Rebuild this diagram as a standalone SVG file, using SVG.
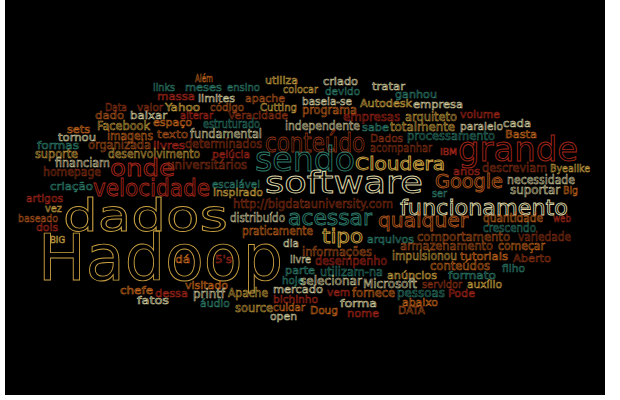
<svg xmlns="http://www.w3.org/2000/svg" width="620" height="400" viewBox="0 0 620 400">
<style>
text{font-family:"DejaVu Sans","Liberation Sans",sans-serif;fill:none;stroke-width:0.55;font-size:11px}
.g{stroke:#c9a040}.c{stroke:#d6cfa0}.t{stroke:#2e7d6b}.r{stroke:#a3261a}.b{stroke:#8c3315}.o{stroke:#c8691e}.ob{stroke:#a8521c}
.m{font-size:12.5px}.s{font-size:8px}
.big{stroke-width:0.9}
</style>
<rect x="0" y="0" width="620" height="400" fill="#ffffff"/>
<rect x="5" y="0" width="600" height="395" fill="#000000"/>
<g id="cloud">
<text x="195" y="82" textLength="18" lengthAdjust="spacingAndGlyphs" class="o">Além</text>
<text x="265" y="84" textLength="33" lengthAdjust="spacingAndGlyphs" class="g">utiliza</text>
<text x="323" y="85" textLength="35" lengthAdjust="spacingAndGlyphs" class="c">criado</text>
<text x="372" y="90" textLength="33" lengthAdjust="spacingAndGlyphs" class="c">tratar</text>
<text x="283" y="93" textLength="35" lengthAdjust="spacingAndGlyphs" class="g">colocar</text>
<text x="325" y="95" textLength="35" lengthAdjust="spacingAndGlyphs" class="t">devido</text>
<text x="395" y="98" textLength="42" lengthAdjust="spacingAndGlyphs" class="t">ganhou</text>
<text x="153" y="91" textLength="22" lengthAdjust="spacingAndGlyphs" class="t">links</text>
<text x="185" y="91" textLength="37" lengthAdjust="spacingAndGlyphs" class="t">meses</text>
<text x="227" y="91" textLength="33" lengthAdjust="spacingAndGlyphs" class="t">ensino</text>
<text x="157" y="100" textLength="38" lengthAdjust="spacingAndGlyphs" class="r">massa</text>
<text x="198" y="102" textLength="37" lengthAdjust="spacingAndGlyphs" class="c">limites</text>
<text x="245" y="102" textLength="40" lengthAdjust="spacingAndGlyphs" class="ob">apache</text>
<text x="302" y="105" textLength="50" lengthAdjust="spacingAndGlyphs" class="c">baseia-se</text>
<text x="360" y="107" textLength="52" lengthAdjust="spacingAndGlyphs" class="g">Autodesk</text>
<text x="413" y="108" textLength="50" lengthAdjust="spacingAndGlyphs" class="c">empresa</text>
<text x="302" y="114" textLength="55" lengthAdjust="spacingAndGlyphs" class="o m">programa</text>
<text x="105" y="111" textLength="22" lengthAdjust="spacingAndGlyphs" class="b">Data</text>
<text x="137" y="111" textLength="26" lengthAdjust="spacingAndGlyphs" class="b">valor</text>
<text x="165" y="111" textLength="35" lengthAdjust="spacingAndGlyphs" class="g">Yahoo</text>
<text x="210" y="111" textLength="34" lengthAdjust="spacingAndGlyphs" class="ob">código</text>
<text x="260" y="111" textLength="37" lengthAdjust="spacingAndGlyphs" class="g">Cutting</text>
<text x="95" y="119" textLength="29" lengthAdjust="spacingAndGlyphs" class="ob">dado</text>
<text x="130" y="119" textLength="37" lengthAdjust="spacingAndGlyphs" class="c">baixar</text>
<text x="180" y="119" textLength="33" lengthAdjust="spacingAndGlyphs" class="r">alterar</text>
<text x="228" y="119" textLength="60" lengthAdjust="spacingAndGlyphs" class="b">Veracidade</text>
<text x="153" y="126" textLength="39" lengthAdjust="spacingAndGlyphs" class="o">espaço</text>
<text x="203" y="128" textLength="57" lengthAdjust="spacingAndGlyphs" class="t m">estruturado</text>
<text x="285" y="130" textLength="75" lengthAdjust="spacingAndGlyphs" class="c m">independente</text>
<text x="343" y="121" textLength="57" lengthAdjust="spacingAndGlyphs" class="r m">empresas</text>
<text x="405" y="121" textLength="52" lengthAdjust="spacingAndGlyphs" class="g m">arquiteto</text>
<text x="460" y="118" textLength="40" lengthAdjust="spacingAndGlyphs" class="r">volume</text>
<text x="362" y="131" textLength="27" lengthAdjust="spacingAndGlyphs" class="t">sabe</text>
<text x="390" y="131" textLength="65" lengthAdjust="spacingAndGlyphs" class="g m">totalmente</text>
<text x="460" y="130" textLength="43" lengthAdjust="spacingAndGlyphs" class="c">paralelo</text>
<text x="503" y="127" textLength="28" lengthAdjust="spacingAndGlyphs" class="c">cada</text>
<text x="505" y="138" textLength="32" lengthAdjust="spacingAndGlyphs" class="o">Basta</text>
<text x="407" y="140" textLength="88" lengthAdjust="spacingAndGlyphs" class="t m">processamento</text>
<text x="370" y="142" textLength="33" lengthAdjust="spacingAndGlyphs" class="b">Dados</text>
<text x="370" y="152" textLength="62" lengthAdjust="spacingAndGlyphs" class="b m">acompanhar</text>
<text x="440" y="155" textLength="17" lengthAdjust="spacingAndGlyphs" class="r s">IBM</text>
<text x="458" y="161" textLength="120" lengthAdjust="spacingAndGlyphs" class="r big" style="font-size:33px">grande</text>
<text x="67" y="133" textLength="23" lengthAdjust="spacingAndGlyphs" class="o">sets</text>
<text x="97" y="130" textLength="53" lengthAdjust="spacingAndGlyphs" class="g m">Facebook</text>
<text x="157" y="138" textLength="31" lengthAdjust="spacingAndGlyphs" class="ob">texto</text>
<text x="190" y="138" textLength="72" lengthAdjust="spacingAndGlyphs" class="c m">fundamental</text>
<text x="58" y="141" textLength="38" lengthAdjust="spacingAndGlyphs" class="c">tornou</text>
<text x="107" y="140" textLength="46" lengthAdjust="spacingAndGlyphs" class="o m">imagens</text>
<text x="37" y="149" textLength="42" lengthAdjust="spacingAndGlyphs" class="t">formas</text>
<text x="88" y="149" textLength="63" lengthAdjust="spacingAndGlyphs" class="ob m">organizada</text>
<text x="153" y="149" textLength="32" lengthAdjust="spacingAndGlyphs" class="r">livres</text>
<text x="185" y="148" textLength="77" lengthAdjust="spacingAndGlyphs" class="b m">determinados</text>
<text x="265" y="152" textLength="100" lengthAdjust="spacingAndGlyphs" class="b big" style="font-size:27px">conteúdo</text>
<text x="35" y="158" textLength="43" lengthAdjust="spacingAndGlyphs" class="g m">suporte</text>
<text x="108" y="158" textLength="92" lengthAdjust="spacingAndGlyphs" class="g m">desenvolvimento</text>
<text x="212" y="158" textLength="38" lengthAdjust="spacingAndGlyphs" class="r">pelúcia</text>
<text x="255" y="171" textLength="100" lengthAdjust="spacingAndGlyphs" class="t big" style="font-size:34px">sendo</text>
<text x="55" y="167" textLength="55" lengthAdjust="spacingAndGlyphs" class="c m">financiam</text>
<text x="110" y="176" textLength="65" lengthAdjust="spacingAndGlyphs" class="r big" style="font-size:23px">onde</text>
<text x="167" y="169" textLength="80" lengthAdjust="spacingAndGlyphs" class="b m">universitários</text>
<text x="43" y="176" textLength="58" lengthAdjust="spacingAndGlyphs" class="b m">homepage</text>
<text x="355" y="170" textLength="90" lengthAdjust="spacingAndGlyphs" class="g big" style="font-size:18px">Cloudera</text>
<text x="435" y="188" textLength="68" lengthAdjust="spacingAndGlyphs" class="ob big" style="font-size:19px">Google</text>
<text x="453" y="175" textLength="27" lengthAdjust="spacingAndGlyphs" class="r">anos</text>
<text x="482" y="172" textLength="65" lengthAdjust="spacingAndGlyphs" class="b m">descreviam</text>
<text x="550" y="172" textLength="40" lengthAdjust="spacingAndGlyphs" class="g">Byealike</text>
<text x="507" y="184" textLength="68" lengthAdjust="spacingAndGlyphs" class="c m">necessidade</text>
<text x="510" y="194" textLength="50" lengthAdjust="spacingAndGlyphs" class="c m">suportar</text>
<text x="563" y="194" textLength="15" lengthAdjust="spacingAndGlyphs" class="o">Big</text>
<text x="432" y="197" textLength="15" lengthAdjust="spacingAndGlyphs" class="t">ser</text>
<text x="93" y="196" textLength="117" lengthAdjust="spacingAndGlyphs" class="r big" style="font-size:23px">velocidade</text>
<text x="212" y="188" textLength="48" lengthAdjust="spacingAndGlyphs" class="t">escalável</text>
<text x="213" y="196" textLength="50" lengthAdjust="spacingAndGlyphs" class="g">inspirado</text>
<text x="265" y="193" textLength="158" lengthAdjust="spacingAndGlyphs" class="c big" style="font-size:30px">software</text>
<text x="50" y="190" textLength="43" lengthAdjust="spacingAndGlyphs" class="t">criação</text>
<text x="26" y="202" textLength="37" lengthAdjust="spacingAndGlyphs" class="r">artigos</text>
<text x="45" y="212" textLength="17" lengthAdjust="spacingAndGlyphs" class="g">vez</text>
<text x="18" y="222" textLength="40" lengthAdjust="spacingAndGlyphs" class="ob">baseado</text>
<text x="36" y="231" textLength="22" lengthAdjust="spacingAndGlyphs" class="r">dois</text>
<text x="50" y="243" textLength="15" lengthAdjust="spacingAndGlyphs" class="g s">BIG</text>
<text x="63" y="231" textLength="165" lengthAdjust="spacingAndGlyphs" class="g big" style="font-size:45px">dados</text>
<text x="38" y="280" textLength="245" lengthAdjust="spacingAndGlyphs" class="g big" style="font-size:64px">Hadoop</text>
<text x="233" y="208" textLength="160" lengthAdjust="spacingAndGlyphs" class="b m">http://bigdatauniversity.com</text>
<text x="400" y="215" textLength="168" lengthAdjust="spacingAndGlyphs" class="c big" style="font-size:22px">funcionamento</text>
<text x="288" y="225" textLength="84" lengthAdjust="spacingAndGlyphs" class="t big" style="font-size:22px">acessar</text>
<text x="230" y="222" textLength="55" lengthAdjust="spacingAndGlyphs" class="c m">distribuído</text>
<text x="378" y="227" textLength="90" lengthAdjust="spacingAndGlyphs" class="ob big" style="font-size:20px">qualquer</text>
<text x="483" y="222" textLength="60" lengthAdjust="spacingAndGlyphs" class="o m">quantidade</text>
<text x="553" y="222" textLength="18" lengthAdjust="spacingAndGlyphs" class="r">web</text>
<text x="483" y="232" textLength="53" lengthAdjust="spacingAndGlyphs" class="t m">crescendo</text>
<text x="242" y="235" textLength="71" lengthAdjust="spacingAndGlyphs" class="o m">praticamente</text>
<text x="322" y="243" textLength="41" lengthAdjust="spacingAndGlyphs" class="g big" style="font-size:19px">tipo</text>
<text x="367" y="243" textLength="47" lengthAdjust="spacingAndGlyphs" class="t">arquivos</text>
<text x="417" y="241" textLength="93" lengthAdjust="spacingAndGlyphs" class="ob m">comportamento</text>
<text x="518" y="241" textLength="53" lengthAdjust="spacingAndGlyphs" class="b m">variedade</text>
<text x="400" y="250" textLength="93" lengthAdjust="spacingAndGlyphs" class="ob m">armazenamento</text>
<text x="498" y="250" textLength="47" lengthAdjust="spacingAndGlyphs" class="o m">começar</text>
<text x="283" y="247" textLength="16" lengthAdjust="spacingAndGlyphs" class="c">dia</text>
<text x="302" y="256" textLength="70" lengthAdjust="spacingAndGlyphs" class="ob m">informações</text>
<text x="392" y="260" textLength="65" lengthAdjust="spacingAndGlyphs" class="g m">impulsionou</text>
<text x="460" y="260" textLength="48" lengthAdjust="spacingAndGlyphs" class="o">tutoriais</text>
<text x="513" y="262" textLength="38" lengthAdjust="spacingAndGlyphs" class="b">Aberto</text>
<text x="290" y="263" textLength="21" lengthAdjust="spacingAndGlyphs" class="c">livre</text>
<text x="315" y="265" textLength="72" lengthAdjust="spacingAndGlyphs" class="r m">desempenho</text>
<text x="430" y="270" textLength="60" lengthAdjust="spacingAndGlyphs" class="o m">conteúdos</text>
<text x="502" y="272" textLength="23" lengthAdjust="spacingAndGlyphs" class="t">filho</text>
<text x="285" y="274" textLength="30" lengthAdjust="spacingAndGlyphs" class="t">parte</text>
<text x="320" y="276" textLength="63" lengthAdjust="spacingAndGlyphs" class="t m">utilizam-na</text>
<text x="387" y="279" textLength="50" lengthAdjust="spacingAndGlyphs" class="g">anúncios</text>
<text x="448" y="279" textLength="48" lengthAdjust="spacingAndGlyphs" class="t">formato</text>
<text x="282" y="284" textLength="22" lengthAdjust="spacingAndGlyphs" class="t">hoje</text>
<text x="300" y="285" textLength="62" lengthAdjust="spacingAndGlyphs" class="c m">selecionar</text>
<text x="363" y="288" textLength="54" lengthAdjust="spacingAndGlyphs" class="c m">Microsoft</text>
<text x="422" y="288" textLength="40" lengthAdjust="spacingAndGlyphs" class="b">servidor</text>
<text x="467" y="288" textLength="35" lengthAdjust="spacingAndGlyphs" class="g">auxílio</text>
<text x="273" y="293" textLength="50" lengthAdjust="spacingAndGlyphs" class="c">mercado</text>
<text x="327" y="296" textLength="23" lengthAdjust="spacingAndGlyphs" class="r">vem</text>
<text x="352" y="297" textLength="43" lengthAdjust="spacingAndGlyphs" class="o m">fornece</text>
<text x="397" y="297" textLength="48" lengthAdjust="spacingAndGlyphs" class="t m">pessoas</text>
<text x="448" y="297" textLength="27" lengthAdjust="spacingAndGlyphs" class="r">Pode</text>
<text x="185" y="289" textLength="43" lengthAdjust="spacingAndGlyphs" class="o">visitado</text>
<text x="120" y="294" textLength="33" lengthAdjust="spacingAndGlyphs" class="o">chefe</text>
<text x="155" y="297" textLength="33" lengthAdjust="spacingAndGlyphs" class="r">dessa</text>
<text x="193" y="298" textLength="32" lengthAdjust="spacingAndGlyphs" class="c m">printf</text>
<text x="228" y="297" textLength="40" lengthAdjust="spacingAndGlyphs" class="g m">Apache</text>
<text x="137" y="304" textLength="32" lengthAdjust="spacingAndGlyphs" class="c">fatos</text>
<text x="200" y="307" textLength="30" lengthAdjust="spacingAndGlyphs" class="t">áudio</text>
<text x="273" y="303" textLength="45" lengthAdjust="spacingAndGlyphs" class="r">bichinho</text>
<text x="235" y="312" textLength="38" lengthAdjust="spacingAndGlyphs" class="g m">source</text>
<text x="273" y="311" textLength="32" lengthAdjust="spacingAndGlyphs" class="o">cuidar</text>
<text x="340" y="307" textLength="37" lengthAdjust="spacingAndGlyphs" class="c">forma</text>
<text x="402" y="306" textLength="36" lengthAdjust="spacingAndGlyphs" class="o">abaixo</text>
<text x="310" y="314" textLength="28" lengthAdjust="spacingAndGlyphs" class="o">Doug</text>
<text x="347" y="317" textLength="32" lengthAdjust="spacingAndGlyphs" class="r">nome</text>
<text x="398" y="314" textLength="27" lengthAdjust="spacingAndGlyphs" class="ob">DATA</text>
<text x="270" y="320" textLength="27" lengthAdjust="spacingAndGlyphs" class="c">open</text>
<text x="175" y="263" textLength="15" lengthAdjust="spacingAndGlyphs" class="o">dá</text>
<text x="215" y="263" textLength="17" lengthAdjust="spacingAndGlyphs" class="r">5's</text>
</g>
</svg>
